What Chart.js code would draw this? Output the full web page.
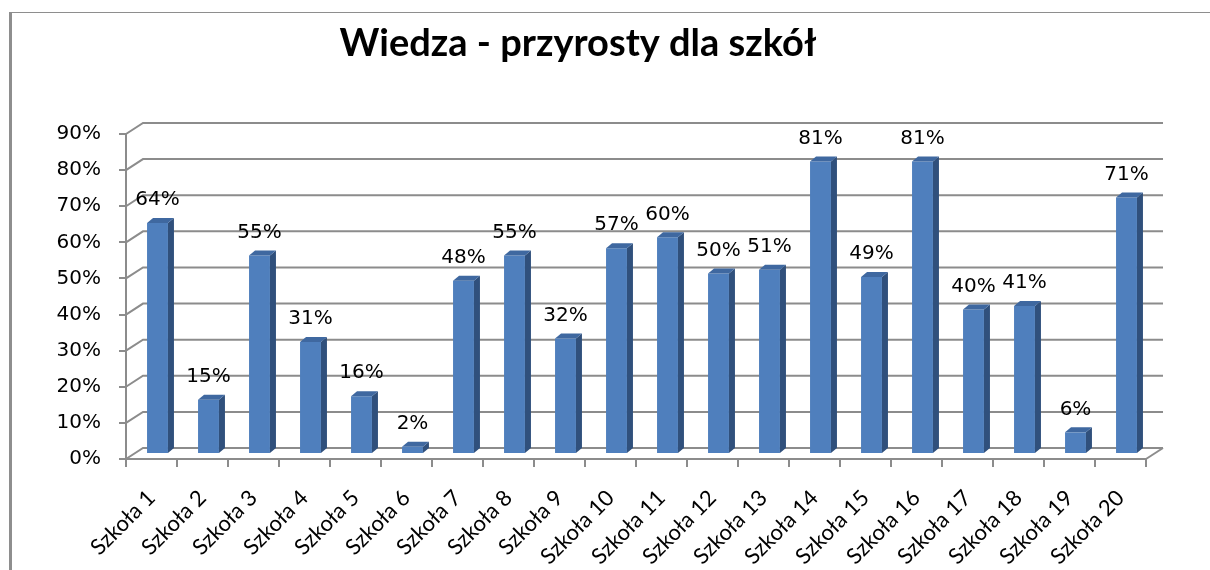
<!DOCTYPE html>
<html>
<head>
<meta charset="utf-8">
<script src="https://cdn.jsdelivr.net/npm/chart.js"></script>
<style>
html, body { margin: 0; padding: 0; background: #fff; }
#wrap { position: relative; width: 1210px; height: 570px; }
#frame { position: absolute; left: 9px; top: 12px; right: 0; bottom: 0;
         border-left: 3px solid #8e8e8e; border-top: 1px solid #8e8e8e; }
canvas { position: absolute; left: 0; top: 0; }
</style>
</head>
<body>
<div id="wrap">
  <div id="frame"></div>
  <canvas id="myChart" width="1210" height="570"></canvas>
</div>
<script>
// DATA
var chartTitle = "Wiedza - przyrosty dla szkół";
var schools = ["Szkoła 1", "Szkoła 2", "Szkoła 3", "Szkoła 4", "Szkoła 5",
               "Szkoła 6", "Szkoła 7", "Szkoła 8", "Szkoła 9", "Szkoła 10",
               "Szkoła 11", "Szkoła 12", "Szkoła 13", "Szkoła 14", "Szkoła 15",
               "Szkoła 16", "Szkoła 17", "Szkoła 18", "Szkoła 19", "Szkoła 20"];
var growth = [64, 15, 55, 31, 16, 2, 48, 55, 32, 57, 60, 50, 51, 81, 49, 81, 40, 41, 6, 71];
var yMax = 90;
var yStep = 10;

// look of the fake 3d
var wallShift = { dx: 17, dy: -11 };
var barShift = { dx: 6, dy: -5 };
var gridColor = '#8c8c8c';
var frontColor = '#4f7fbd';
var sideColor = '#30507c';
var topColor = '#3f68a0';

const ctx = document.getElementById('myChart');

const threeD = {
    id: 'threeD',
    beforeDatasetsDraw(chart) {
        var c = chart.ctx;
        var a = chart.chartArea;
        var y = chart.scales.y;
        c.save();
        c.strokeStyle = gridColor;
        c.lineWidth = 2;
        y.ticks.forEach(function (t) {
            var py = y.getPixelForValue(t.value);
            c.beginPath();
            c.moveTo(a.left, py);
            c.lineTo(a.left + wallShift.dx, py + wallShift.dy);
            c.lineTo(a.right + wallShift.dx, py + wallShift.dy);
            c.stroke();
        });
        // floor right edge
        var p0 = y.getPixelForValue(0);
        c.beginPath();
        c.moveTo(a.right, p0);
        c.lineTo(a.right + wallShift.dx, p0 + wallShift.dy);
        c.stroke();
        c.restore();
        // bars sit in the middle of the depth
        c.save();
        c.translate(barShift.dx, barShift.dy);
    },
    afterDatasetsDraw(chart) {
        var c = chart.ctx;
        var meta = chart.getDatasetMeta(0);
        meta.data.forEach(function (bar, i) {
            var l = bar.x - bar.width / 2;
            var r = bar.x + bar.width / 2;
            c.fillStyle = sideColor;
            c.beginPath();
            c.moveTo(r, bar.y);
            c.lineTo(r + barShift.dx, bar.y + barShift.dy);
            c.lineTo(r + barShift.dx, bar.base + barShift.dy);
            c.lineTo(r, bar.base);
            c.closePath();
            c.fill();
            c.fillStyle = topColor;
            c.beginPath();
            c.moveTo(l, bar.y);
            c.lineTo(r, bar.y);
            c.lineTo(r + barShift.dx, bar.y + barShift.dy);
            c.lineTo(l + barShift.dx, bar.y + barShift.dy);
            c.closePath();
            c.fill();
            c.fillStyle = '#000';
            c.font = '20px "DejaVu Sans"';
            c.textAlign = 'center';
            c.textBaseline = 'middle';
            c.fillText(growth[i] + '%', bar.x, bar.y - 23);
        });
        c.restore();
    },
    afterDraw(chart) {
        var c = chart.ctx;
        c.save();
        c.fillStyle = '#000';
        c.font = 'bold 38px Lato';
        c.textAlign = 'center';
        c.textBaseline = 'middle';
        c.fillText(chartTitle, 578, 44);
        c.restore();
    }
};

const chart = new Chart(ctx, {
    type: 'bar',
    data: {
        labels: schools,
        datasets: [{
            data: growth,
            backgroundColor: frontColor,
            borderWidth: 0,
            barPercentage: 0.5,
            categoryPercentage: 0.82
        }]
    },
    options: {
        responsive: false,
        animation: false,
        devicePixelRatio: 1,
        layout: { padding: { top: 134, right: 64, left: 0, bottom: 0 } },
        plugins: {
            legend: { display: false },
            title: { display: false },
            tooltip: { enabled: false }
        },
        scales: {
            x: {
                afterFit: function (s) { s.height = 111; },
                grid: { drawOnChartArea: false, tickLength: 8, color: gridColor, lineWidth: 2, offset: true },
                border: { color: gridColor, width: 2 },
                ticks: {
                    color: '#000',
                    font: { family: 'Lato', size: 22 },
                    maxRotation: 45,
                    minRotation: 45,
                    padding: 18
                }
            },
            y: {
                min: 0,
                max: yMax,
                afterFit: function (s) { s.width = 126; },
                grid: { drawOnChartArea: false, tickLength: 7, color: gridColor, lineWidth: 2 },
                border: { color: gridColor, width: 2 },
                ticks: {
                    stepSize: yStep,
                    color: '#000',
                    font: { family: 'DejaVu Sans', size: 20 },
                    padding: 18,
                    callback: function (v) { return v + '%'; }
                }
            }
        }
    },
    plugins: [threeD]
});
</script>
</body>
</html>
